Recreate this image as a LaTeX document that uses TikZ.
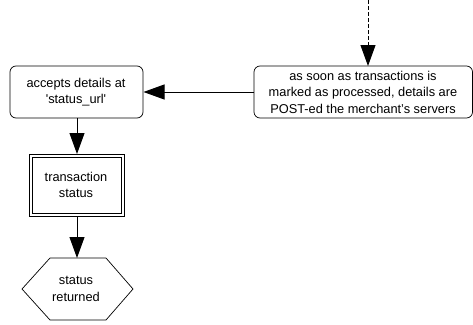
\documentclass[tikz,border=0pt]{standalone}
\usepackage{fontspec}
\setmainfont{Liberation Sans}
\usetikzlibrary{arrows.meta,shapes.geometric,calc}
\begin{document}
\begin{tikzpicture}[x=1pt,y=-1pt,
  proc/.style={draw,rounded corners=6pt,line width=0.7pt},
  conn/.style={line width=0.9pt,-{Triangle[length=21pt,width=15pt]}},
  txt/.style={align=center,font=\fontsize{12.8}{16.5}\selectfont,inner sep=0pt}]
\useasboundingbox (0,0) rectangle (473,324);
% right process box
\draw[proc] (254,66) rectangle (472.5,118);
\node[txt] (post) at (363,92) {as soon as transactions is\\marked as processed, details are\\POST-ed the merchant's servers};
\coordinate (postL) at (254,92);
\coordinate (postT) at (368,66);
% left process box
\draw[proc] (10,66) rectangle (143,118);
\node[txt] (acc) at (76,92) {accepts details at\\\textquotesingle status\_url\textquotesingle};
\coordinate (accR) at (143.5,92);
\coordinate (accB) at (77,118);
% double rectangle
\draw[line width=0.7pt] (29,154) rectangle (124,216);
\draw[line width=0.7pt] (32,157) rectangle (121,213);
\node[txt] (ts) at (76,185) {transaction\\status};
\coordinate (tsT) at (77,154);
\coordinate (tsB) at (77,216);
% hexagon
\draw[line width=0.7pt] (50,258) -- (106,258) -- (133,289) -- (106,320) -- (50,320) -- (22,289) -- cycle;
\node[txt] (sr) at (76,289) {status\\returned};
\coordinate (srT) at (77,258);
% connectors
\coordinate (top) at (368,0);
\draw[conn,dash pattern=on 4pt off 2pt] (top) -- (postT);
\draw[conn] (postL) -- (accR);
\draw[conn] (accB) -- (tsT);
\draw[conn] (tsB) -- (srT);
\end{tikzpicture}
\end{document}
